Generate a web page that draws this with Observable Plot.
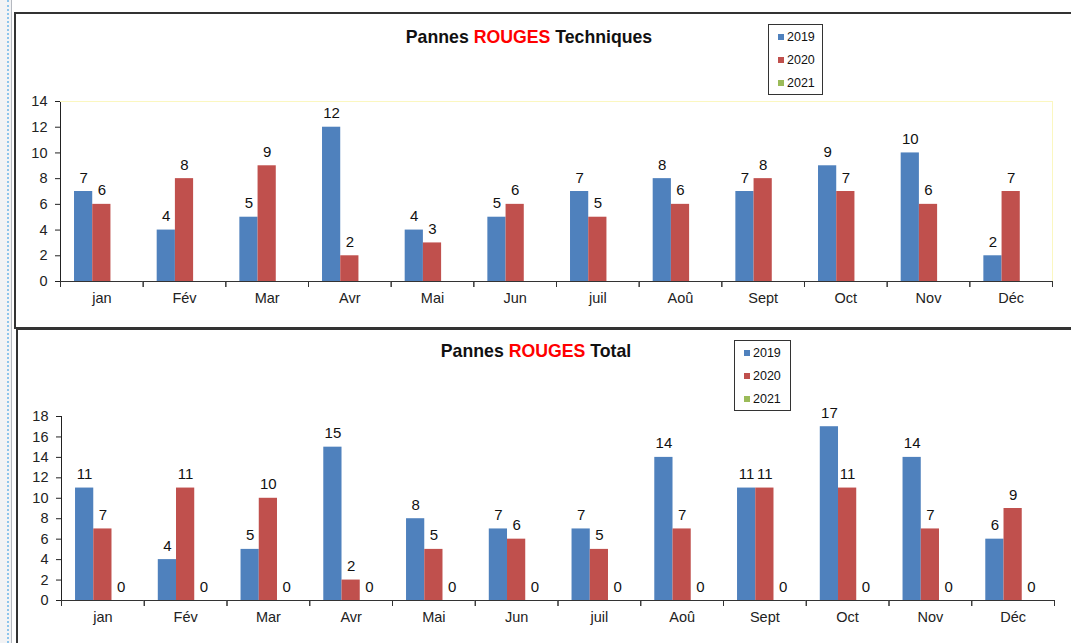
<!DOCTYPE html>
<html>
<head>
<meta charset="utf-8">
<script src="https://cdn.jsdelivr.net/npm/d3@7"></script>
<script src="https://cdn.jsdelivr.net/npm/@observablehq/plot@0.6"></script>
<style>
  html, body { margin: 0; padding: 0; background: #fff; }
  body { width: 1071px; height: 643px; position: relative; overflow: hidden; font-family: "Liberation Sans", Arial, sans-serif; }
  .abs { position: absolute; }
  .gutter { left: 0; top: 0; width: 11px; height: 643px; background: #f2f3f5; border-right: 1px solid #b5b9c0; }
  .gutter-dots { left: 7px; top: 0; height: 643px; border-left: 2px dotted #8cc4ec; }
  .frame { border-left: 2px solid #333; border-top: 2px solid #333; background: #fff; }
  .title { font-weight: bold; font-size: 17.7px; color: #111; white-space: nowrap; transform: translateX(-50%); line-height: 1.15; }
  .title .red { color: #ff0000; }
  .legend { border: 1px solid #333; background: #fff; font-size: 12.5px; color: #111; }
  .legend .item { display: flex; align-items: center; padding-left: 9px; }
  .legend .sw { width: 6px; height: 6px; margin-right: 3px; }
  .chart { left: 0; }
  .chart svg { overflow: visible; }
</style>
</head>
<body>
<div id="root"></div>
<script>
// ---- data ----
const months = ["jan", "Fév", "Mar", "Avr", "Mai", "Jun", "juil", "Aoû", "Sept", "Oct", "Nov", "Déc"];
const years = ["2019", "2020", "2021"];
const yearColors = ["#4F81BD", "#C0504D", "#9BBB59"];

const tech2019 = [7, 4, 5, 12, 4, 5, 7, 8, 7, 9, 10, 2];
const tech2020 = [6, 8, 9, 2, 3, 6, 5, 6, 8, 7, 6, 7];
const tech2021 = [];

const total2019 = [11, 4, 5, 15, 8, 7, 7, 14, 11, 17, 14, 6];
const total2020 = [7, 11, 10, 2, 5, 6, 5, 7, 11, 11, 7, 9];
const total2021 = [0, 0, 0, 0, 0, 0, 0, 0, 0, 0, 0, 0];

const techTicks = [0, 2, 4, 6, 8, 10, 12, 14];
const totalTicks = [0, 2, 4, 6, 8, 10, 12, 14, 16, 18];

const techTitle = ["Pannes ", "ROUGES", " Techniques"];
const totalTitle = ["Pannes ", "ROUGES", " Total"];

// ---- helpers ----
const root = document.getElementById("root");
function el(cls, css, html) {
  const d = document.createElement("div");
  d.className = "abs " + cls;
  Object.assign(d.style, css);
  if (html != null) d.innerHTML = html;
  root.appendChild(d);
  return d;
}

function toRows(seriesList) {
  const rows = [];
  seriesList.forEach((vals, si) => vals.forEach((v, i) => rows.push({month: months[i], year: years[si], value: v})));
  return rows;
}

function buildChart(seriesList, ticks, o) {
  const data = toRows(seriesList);
  const plotH = o.height - o.marginTop - o.marginBottom;
  const marks = [];
  if (o.plotBorder) {
    marks.push(Plot.frame({anchor: "top", stroke: "#fbf7c0"}));
    marks.push(Plot.frame({anchor: "right", stroke: "#fbf7c0", facetAnchor: "right"}));
  }
  marks.push(
    Plot.barY(data, {fx: "month", x: "year", y: "value", fill: "year", insetLeft: 0, insetRight: 0}),
    Plot.ruleY([0], {stroke: "#333", strokeWidth: 1.2}),
    Plot.frame({anchor: "left", insetTop: plotH, insetBottom: -5, stroke: "#333"}),
    Plot.frame({anchor: "right", insetTop: plotH, insetBottom: -5, stroke: "#333"}),
    Plot.text(data, {fx: "month", x: "year", y: "value", text: d => String(d.value), lineAnchor: "bottom", dy: -9, fontSize: 15, fill: "#111"})
  );
  return Plot.plot({
    width: 1071,
    height: o.height,
    marginTop: o.marginTop,
    marginBottom: o.marginBottom,
    marginLeft: o.marginLeft,
    marginRight: o.marginRight,
    style: {fontFamily: '"Liberation Sans", Arial, sans-serif', fontSize: "14.5px", color: "#222", background: "transparent", overflow: "visible"},
    fx: {domain: months, padding: 0, round: false, axis: "bottom", tickSize: 0, tickPadding: 11, label: null},
    x: {domain: years, paddingInner: 0, paddingOuter: 0.77, axis: null, round: false},
    y: {domain: [0, ticks[ticks.length - 1]], ticks: ticks, tickSize: 5, tickPadding: 8, line: true, label: null},
    color: {domain: years, range: yearColors},
    marks
  });
}

function legend(css) {
  const box = el("legend", css);
  years.forEach((y, i) => {
    const it = document.createElement("div");
    it.className = "item";
    it.style.height = css.rowH;
    it.innerHTML = `<span class="sw" style="background:${yearColors[i]}"></span><span>${y}</span>`;
    box.appendChild(it);
  });
}

function title(parts, css) {
  el("title", css, `${parts[0]}<span class="red">${parts[1]}</span>${parts[2]}`);
}

// ---- page ----
el("gutter", {});
el("gutter-dots", {});
el("frame", {left: "14px", top: "12px", width: "1100px", height: "313px", borderBottom: "2px solid #333"});
el("frame", {left: "16px", top: "328px", width: "1100px", height: "400px"});

// top chart
title(techTitle, {left: "529px", top: "27px"});
const c1 = buildChart([tech2019, tech2020, tech2021], techTicks,
  {height: 230, marginTop: 11, marginBottom: 39, marginLeft: 60, marginRight: 19, plotBorder: true});
const w1 = el("chart", {top: "90px"});
w1.appendChild(c1);
legend({left: "768px", top: "24px", width: "53px", height: "69px", rowH: "23px"});

// bottom chart
title(totalTitle, {left: "536px", top: "341px"});
const c2 = buildChart([total2019, total2020, total2021], totalTicks,
  {height: 245, marginTop: 21, marginBottom: 40, marginLeft: 61, marginRight: 17, plotBorder: false});
const w2 = el("chart", {top: "395px"});
w2.appendChild(c2);
legend({left: "734px", top: "340px", width: "55px", height: "69px", rowH: "23px"});
</script>
</body>
</html>
